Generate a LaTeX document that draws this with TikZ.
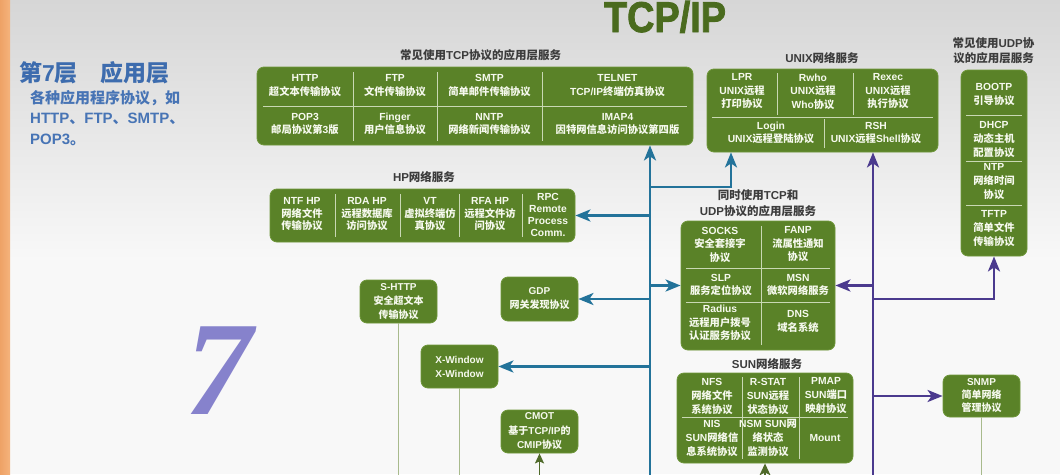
\documentclass[tikz,border=0pt]{standalone}
\usepackage{fontspec}
\usetikzlibrary{arrows.meta}
\setmainfont{Liberation Sans}
\newfontfamily\latfam{Liberation Sans}
\newfontfamily\cjkfam{Noto Sans CJK SC}
\newfontfamily\titlefam{Liberation Sans}[BoldFeatures={FakeBold=2}]
\newfontfamily\sevenfam{Liberation Serif}
\makeatletter
\count@="3000
\loop\ifnum\count@<"3040 \XeTeXcharclass\count@=1 \advance\count@ 1 \repeat
\count@="FF00
\loop\ifnum\count@<"FFF0 \XeTeXcharclass\count@=1 \advance\count@ 1 \repeat
\count@="4E00
\loop\ifnum\count@<"A000 \XeTeXcharclass\count@=1 \advance\count@ 1 \repeat
\makeatother
\XeTeXinterchartoks 0 1 = {\cjkfam}
\XeTeXinterchartoks 4095 1 = {\cjkfam}
\XeTeXinterchartoks 1 0 = {\latfam}
\XeTeXinterchartoks 4095 0 = {\latfam}
\XeTeXinterchartokenstate=1
\newcommand\nointerchar{\XeTeXinterchartokenstate=0\relax}
\definecolor{boxg}{HTML}{5A8228}
\definecolor{boxe}{HTML}{6E963A}
\definecolor{divc}{HTML}{C9D8B4}
\definecolor{cellt}{HTML}{F6F9EE}
\definecolor{bluec}{HTML}{23739A}
\definecolor{purc}{HTML}{4B3A8E}
\definecolor{lblc}{HTML}{3C3C3C}
\definecolor{headc}{HTML}{3D6CAE}
\definecolor{bodyc}{HTML}{4774B5}
\definecolor{sevenc}{HTML}{8682CC}
\definecolor{titlec}{HTML}{4A6B1E}
\definecolor{glinec}{HTML}{A8BA8C}
\definecolor{garrc}{HTML}{4F6A2A}
\definecolor{bgtop}{HTML}{D6D6D6}
\definecolor{bgbot}{HTML}{F8F8F8}
\definecolor{orA}{HTML}{EEA266}
\definecolor{orB}{HTML}{F5B37C}
\tikzset{
 gbox/.style={fill=boxg, draw=boxe, line width=0.8pt, rounded corners=7pt},
 cell/.style={text=cellt, font=\bfseries\fontsize{10.3}{13.5}\selectfont, align=center, inner sep=0pt},
 hpcell/.style={cell, font=\bfseries\fontsize{10.3}{12.5}\selectfont},
 suncell/.style={cell, font=\bfseries\fontsize{10.3}{14}\selectfont},
 smallbox/.style={gbox, cell, minimum width=77pt, font=\bfseries\fontsize{10}{14}\selectfont},
 glabel/.style={text=lblc, font=\bfseries\fontsize{11.5}{15.5}\selectfont, align=center, inner sep=0pt},
 divl/.style={draw=divc, line width=0.8pt},
 barrow/.style={draw=bluec, line width=2.8pt, -{Stealth[length=15pt,width=12pt,inset=4pt]}},
 parrow/.style={draw=purc, line width=2.8pt, -{Stealth[length=15pt,width=12pt,inset=4pt]}},
 gline/.style={draw=glinec, line width=1.5pt},
 garrow/.style={draw=garrc, line width=1.5pt, -{Stealth[length=10pt,width=9pt,inset=2pt]}},
}
\begin{document}
\begin{tikzpicture}[x=1pt,y=-1pt]
\useasboundingbox (0,0) rectangle (1060,474);
\clip (0,0) rectangle (1060,474);
% background
\fill[bgbot] (0,0) rectangle (1060,474);
\shade[top color=bgtop, bottom color=bgbot] (0,0) rectangle (1060,260);
\shade[left color=orA, right color=orB] (0,0) rectangle (10,474);

% title
\node[anchor=base, text=titlec, inner sep=0pt, font=\nointerchar\titlefam\bfseries\fontsize{43}{46}\selectfont] (title) at (665,32) {\scalebox{0.88}[1]{TCP/IP}};

% left texts
\node[anchor=west, text=headc, inner sep=0pt, font=\bfseries\fontsize{23}{27}\selectfont] (head) at (19,72.5) {第7层\hspace{23pt}应用层};
\node[anchor=north west, align=left, text=bodyc, inner sep=0pt, font=\bfseries\fontsize{15}{20.5}\selectfont] (body) at (30,90) {各种应用程序协议，如\\HTTP、FTP、SMTP、\\POP3。};
\node[anchor=base, text=sevenc, inner sep=0pt, font=\nointerchar\sevenfam\bfseries\itshape\fontsize{134}{140}\selectfont] (seven) at (219,414) {7};

% TCP box
\node[glabel] (tcpl) at (480.5,55) {常见使用TCP协议的应用层服务};
\node[gbox, minimum width=436pt, minimum height=78pt] (tcp) at (475,106) {};
\draw[divl] (263,106) -- (687,106);
\foreach \x in {353,437,542} \draw[divl] (\x,72) -- (\x,141);
\node[cell] (http) at (305,85.5) {HTTP\\超文本传输协议};
\node[cell] (ftp) at (395,85.5) {FTP\\文件传输协议};
\node[cell] (smtp) at (489.5,85.5) {SMTP\\简单邮件传输协议};
\node[cell] (telnet) at (617.5,85.5) {TELNET\\TCP/IP终端仿真协议};
\node[cell] (pop) at (305,124) {POP3\\邮局协议第3版};
\node[cell] (finger) at (395,124) {Finger\\用户信息协议};
\node[cell] (nntp) at (489.5,124) {NNTP\\网络新闻传输协议};
\node[cell] (imap) at (617.5,124) {IMAP4\\因特网信息访问协议第四版};

% UNIX box
\node[glabel] (unixl) at (822,58) {UNIX网络服务};
\node[gbox, minimum width=231pt, minimum height=83pt] (unix) at (822.5,110.5) {};
\draw[divl] (712,117) -- (933,117);
\draw[divl] (777,73) -- (777,115);
\draw[divl] (853,73) -- (853,115);
\draw[divl] (824,119) -- (824,148);
\node[cell] (lpr) at (742,91.5) {LPR\\UNIX远程\\打印协议};
\node[cell] (rwho) at (813,91.5) {Rwho\\UNIX远程\\Who协议};
\node[cell] (rexec) at (888,91.5) {Rexec\\UNIX远程\\执行协议};
\node[cell] (login) at (771,133) {Login\\UNIX远程登陆协议};
\node[cell] (rsh) at (876,133) {RSH\\UNIX远程Shell协议};

% UDP box
\node[glabel] (udpl) at (993.5,50.5) {常见使用UDP协\\议的应用层服务};
\node[gbox, minimum width=66pt, minimum height=186pt] (udp) at (994,163) {};
\foreach \y in {115,161,205} \draw[divl] (966,\y) -- (1022,\y);
\node[suncell] (bootp) at (994,94) {BOOTP\\引导协议};
\node[suncell] (dhcp) at (994,139) {DHCP\\动态主机\\配置协议};
\node[suncell] (ntp) at (994,182) {NTP\\网络时间\\协议};
\node[suncell] (tftp) at (994,229) {TFTP\\简单文件\\传输协议};

% HP box
\node[glabel] (hpl) at (424,177) {HP网络服务};
\node[gbox, minimum width=305pt, minimum height=53pt] (hp) at (422.5,215.5) {};
\foreach \x in {335,400,459,522} \draw[divl] (\x,194) -- (\x,237);
\node[hpcell] (ntf) at (302,214.5) {NTF HP\\网络文件\\传输协议};
\node[hpcell] (rda) at (367,214.5) {RDA HP\\远程数据库\\访问协议};
\node[hpcell] (vt) at (430,214.5) {VT\\虚拟终端仿\\真协议};
\node[hpcell] (rfa) at (490,214.5) {RFA HP\\远程文件访\\问协议};
\node[cell, font=\bfseries\fontsize{10.3}{12}\selectfont] (rpc) at (548,215) {RPC\\Remote\\Process\\Comm.};

% TCP and UDP box
\node[glabel, font=\bfseries\fontsize{11.5}{16}\selectfont] (midl) at (758,203) {同时使用TCP和\\UDP协议的应用层服务};
\node[gbox, minimum width=154pt, minimum height=129pt] (mid) at (758,285.5) {};
\draw[divl] (761,226) -- (761,345);
\draw[divl] (686,268) -- (830,268);
\draw[divl] (686,302) -- (830,302);
\node[cell] (socks) at (720,244.5) {SOCKS\\安全套接字\\协议};
\node[cell] (fanp) at (798,244.5) {FANP\\流属性通知\\协议};
\node[cell] (slp) at (721,285) {SLP\\服务定位协议};
\node[cell] (msn) at (798,285) {MSN\\微软网络服务};
\node[cell] (radius) at (720,323) {Radius\\远程用户拨号\\认证服务协议};
\node[cell] (dns) at (798,321.5) {DNS\\域名系统};

% SUN box
\node[glabel] (sunl) at (767,364) {SUN网络服务};
\node[gbox, minimum width=176pt, minimum height=90pt] (sun) at (765,418) {};
\draw[divl] (742,377) -- (742,459);
\draw[divl] (799,377) -- (799,459);
\draw[divl] (682,417) -- (848,417);
\node[suncell] (nfs) at (712,396) {NFS\\网络文件\\系统协议};
\node[suncell] (rstat) at (768,396) {R-STAT\\SUN远程\\状态协议};
\node[suncell] (pmap) at (826,396) {PMAP\\SUN端口\\映射协议};
\node[suncell] (nis) at (712,438) {NIS\\SUN网络信\\息系统协议};
\node[suncell] (nsm) at (768,438) {NSM SUN网\\络状态\\监测协议};
\node[suncell] (mount) at (825,438) {Mount};

% small boxes
\node[smallbox, minimum height=43pt] (shttp) at (398.5,301.5) {S-HTTP\\安全超文本\\传输协议};
\node[smallbox, minimum height=44pt] (gdp) at (539.5,299) {GDP\\网关发现协议};
\node[smallbox, minimum height=43pt] (xwin) at (459.5,366.5) {X-Window\\X-Window};
\node[smallbox, minimum height=43pt, font=\bfseries\fontsize{10}{14.5}\selectfont] (cmot) at (539.5,431.5) {CMOT\\基于TCP/IP的\\CMIP协议};
\node[smallbox, minimum height=42pt, font=\bfseries\fontsize{10}{13}\selectfont] (snmp) at (981.5,396) {SNMP\\简单网络\\管理协议};

% connectors
\coordinate (bbot) at (650,480);
\coordinate (pbot) at (873,480);
\coordinate (ujoin) at (731,187);
\coordinate (udpj) at (994,299);
\coordinate (lowb) at (0,480);

\draw[barrow] (bbot) -- (bbot |- tcp.south);
\draw[barrow] (bbot |- ujoin) -- (ujoin) -- (ujoin |- unix.south);
\draw[barrow] (bbot |- hp.east) -- (hp.east);
\draw[barrow] (bbot |- mid.west) -- (mid.west);
\draw[barrow] (bbot |- gdp.east) -- (gdp.east);
\draw[barrow] (bbot |- xwin.east) -- (xwin.east);

\draw[parrow] (pbot) -- (pbot |- unix.south);
\draw[parrow] (pbot |- mid.east) -- (mid.east);
\draw[parrow] (pbot |- udpj) -- (udpj) -- (udp.south);
\draw[parrow] (pbot |- snmp.west) -- (snmp.west);

\draw[gline] (shttp.south) -- (shttp.south |- lowb);
\draw[gline] (xwin.south) -- (xwin.south |- lowb);
\draw[gline] (snmp.south) -- (snmp.south |- lowb);
\draw[garrow] (cmot.south |- lowb) -- (cmot.south);
\draw[garrow, -{Stealth[length=12pt,width=11pt,inset=3pt]}] (sun.south |- lowb) -- (sun.south);
\end{tikzpicture}
\end{document}
